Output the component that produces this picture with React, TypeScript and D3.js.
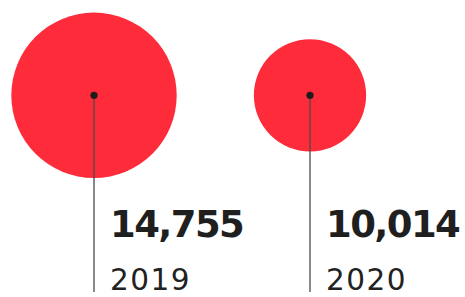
import React, { useEffect } from "react";
import * as d3 from "d3";

// values
const years = ["2019", "2020"];
const totals = [14755, 10014];

const W = 465;
const H = 297;

const App = () => {
  // kill the default body margin so the svg sits at 0,0
  useEffect(() => {
    document.body.style.margin = "0";
  }, []);

  const data = years.map((y, i) => ({ year: y, value: totals[i] }));

  const xScale = d3.scalePoint<string>().domain(years).range([94, 310]);
  const rScale = d3
    .scaleLinear()
    .domain([0, d3.max(totals) as number])
    .range([0, 82.7]);
  const fmt = d3.format(",");
  const cy = 95.3;

  return (
    <svg width={W} height={H} style={{ display: "block" }}>
      {data.map(d => {
        const cx = xScale(d.year) as number;
        return (
          <g key={d.year}>
            <circle cx={cx} cy={cy} r={rScale(d.value)} fill="#fe2c3b" />
            <line
              x1={cx}
              x2={cx}
              y1={cy}
              y2={292}
              stroke="#4a4a4a"
              strokeWidth={1.3}
            />
            <circle cx={cx} cy={cy} r={3.6} fill="#1c1c1c" />
            <text
              x={cx + 16}
              y={237}
              fontFamily="'DejaVu Sans', sans-serif"
              fontWeight={700}
              fontSize={37}
              letterSpacing={-1.6}
              fill="#1f1f1f"
            >
              {fmt(d.value)}
            </text>
            <text
              x={cx + 16}
              y={290}
              fontFamily="'DejaVu Sans', sans-serif"
              fontWeight={400}
              fontSize={29.5}
              letterSpacing={1.5}
              fill="#222"
            >
              {d.year}
            </text>
          </g>
        );
      })}
    </svg>
  );
};

export default App;
